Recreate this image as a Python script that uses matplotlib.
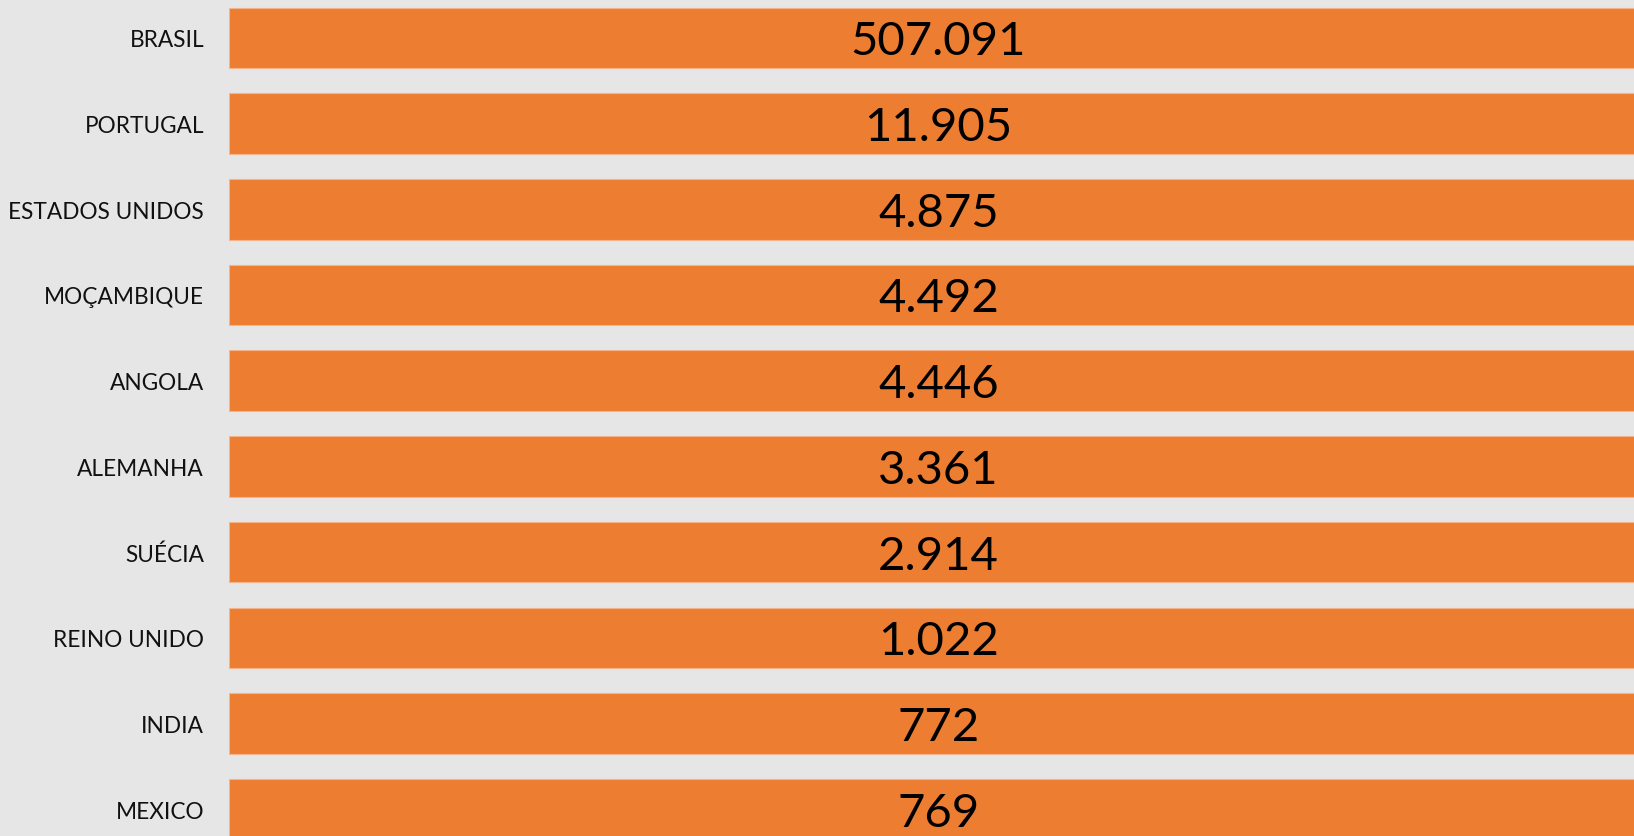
"""Top countries bar chart (values shown as labels)."""
import matplotlib
matplotlib.use("Agg")
import matplotlib.pyplot as plt

countries = ["BRASIL", "PORTUGAL", "ESTADOS UNIDOS", "MOÇAMBIQUE", "ANGOLA",
             "ALEMANHA", "SUÉCIA", "REINO UNIDO", "INDIA", "MEXICO"]
values = [507091, 11905, 4875, 4492, 4446, 3361, 2914, 1022, 772, 769]
labels = ["507.091", "11.905", "4.875", "4.492", "4.446",
          "3.361", "2.914", "1.022", "772", "769"]

BG = "#E6E6E6"
ORANGE = "#ED7D31"


def main():
    plt.rcParams["font.family"] = ["Lato", "DejaVu Sans"]
    fig = plt.figure(figsize=(16.34, 8.37), dpi=100, facecolor=BG)
    ax = fig.add_axes([229 / 1634, 0, 1 - 229 / 1634, 1])
    ax.set_facecolor(BG)

    pos = list(range(len(countries)))
    ax.barh(pos, values, height=0.706, color=ORANGE,
            edgecolor="#F3B48A", linewidth=0.8)

    # axis is cut short on purpose: every bar runs past the right edge
    ax.set_xlim(0, 700)
    ax.set_ylim(9.313, -0.454)

    for p, lab in zip(pos, labels):
        ax.text(0.505, p + 0.04, lab, transform=ax.get_yaxis_transform(),
                ha="center", va="center", fontsize=34, color="#000000")

    ax.set_yticks(pos)
    ax.set_yticklabels(countries, fontsize=16.3, color="#111111")
    ax.tick_params(axis="y", length=0, pad=18)
    ax.set_xticks([])
    for s in ax.spines.values():
        s.set_visible(False)

    fig.savefig("out.png", dpi=100, facecolor=BG)


if __name__ == "__main__":
    main()
